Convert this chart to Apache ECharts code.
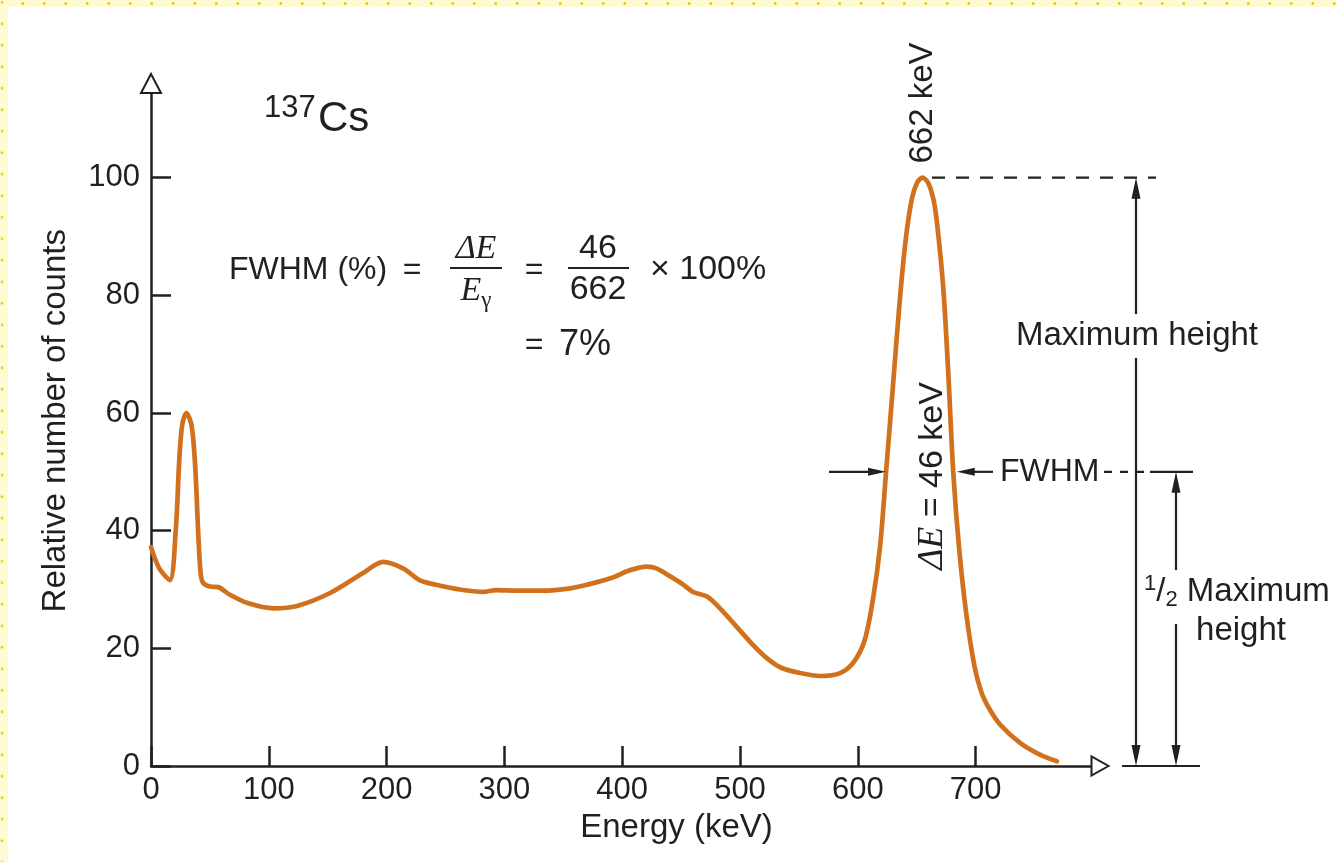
<!DOCTYPE html>
<html>
<head>
<meta charset="utf-8">
<script src="https://cdn.jsdelivr.net/npm/echarts@6/dist/echarts.min.js"></script>
<style>
html,body{margin:0;padding:0;background:#fff;}
#frame{position:relative;width:1336px;height:862px;overflow:hidden;background:#fff;}
#chart{position:absolute;left:0;top:0;width:1336px;height:862px;}
#topbar{position:absolute;left:0;top:0;width:1336px;height:7px;z-index:5;background-color:#fefbd2;
  background-image:radial-gradient(circle at 50% 50%, #f4c21a 0, #f4c21a 1.2px, transparent 1.7px);
  background-size:21.5px 7px;background-position:12px 0;}
#leftbar{position:absolute;left:0;top:0;width:8px;height:862px;z-index:5;background-color:#fefbd2;
  background-image:radial-gradient(circle at 2px 50%, #f4c21a 0, #f4c21a 1.2px, transparent 1.7px);
  background-size:8px 21.5px;background-position:0 13px;}
</style>
</head>
<body>
<div id="frame">
  <div id="chart"></div>
  <div id="topbar"></div>
  <div id="leftbar"></div>
</div>
<script>
// ---- data ----
const energy = [0, 7, 16, 21, 24, 26.5, 30, 34.5, 37.5, 40, 42, 44, 50, 57, 67, 82, 104, 124, 152, 180,
  197, 214, 228, 242, 262, 282, 293, 313, 333, 356, 370, 390, 407, 421, 429, 441, 452, 460, 472, 483,
  497, 511, 523, 535, 551, 568, 585, 597, 606, 613, 619, 624, 630, 636, 641, 646, 650.5, 655, 660, 665,
  669, 673, 677, 681, 686, 692, 699, 705, 712, 721, 738, 755, 769];
const counts = [37.2, 33.6, 31.6, 40, 52, 58, 60, 57.8, 51, 40, 33, 31.2, 30.5, 30.4, 29.1, 27.7, 26.8, 27.2, 29.4, 32.8,
  34.7, 33.6, 31.6, 30.8, 30.0, 29.6, 29.9, 29.8, 29.8, 30.2, 30.8, 31.9, 33.3, 33.9, 33.6, 32.2, 30.8, 29.6, 28.8, 26.8,
  23.7, 20.6, 18.3, 16.7, 15.8, 15.3, 15.8, 17.8, 21.5, 28.5, 37.5, 50, 65, 80, 90, 96.5, 99.2, 100, 99, 95.5,
  89, 80, 66, 50, 37, 26, 17, 12.5, 9.6, 7.0, 3.9, 1.9, 0.8];
const xTicks = [0, 100, 200, 300, 400, 500, 600, 700];
const yTicks = [0, 20, 40, 60, 80, 100];

const INK = '#231f20';
const SANS = '"Liberation Sans", Arial, Helvetica, sans-serif';
const SERIF = '"Liberation Serif", "Times New Roman", serif';

const chart = echarts.init(document.getElementById('chart'), null, {renderer: 'canvas'});

const option = {
  animation: false,
  backgroundColor: 'transparent',
  grid: {left: 151, right: 236, top: 83.5, bottom: 96, containLabel: false, outerBoundsMode: 'none'},
  xAxis: {
    type: 'value', min: 0, max: 805.6,
    name: 'Energy (keV)', nameLocation: 'middle', nameGap: 45,
    nameTextStyle: {fontSize: 33, color: INK, fontFamily: SANS, padding: [0, 0, 0, 102]},
    axisLine: {show: true, lineStyle: {color: INK, width: 2.5}, symbol: ['none', 'emptyTriangle'], symbolSize: [19, 17]},
    axisTick: {show: true, inside: true, length: 20, lineStyle: {color: INK, width: 2.5}, customValues: xTicks},
    axisLabel: {show: true, customValues: xTicks, fontSize: 31, color: INK, fontFamily: SANS, margin: 9},
    splitLine: {show: false}
  },
  yAxis: {
    type: 'value', min: 0, max: 116,
    name: 'Relative number of counts', nameLocation: 'middle', nameGap: 79, nameRotate: 90,
    nameTextStyle: {fontSize: 33, color: INK, fontFamily: SANS, padding: [0, 0, 0, 8]},
    axisLine: {show: true, lineStyle: {color: INK, width: 2.5}, symbol: ['none', 'emptyTriangle'], symbolSize: [20, 19]},
    axisTick: {show: true, inside: true, length: 20, lineStyle: {color: INK, width: 2.5}, customValues: yTicks},
    axisLabel: {show: true, customValues: yTicks, fontSize: 31, color: INK, fontFamily: SANS, margin: 11},
    splitLine: {show: false}
  },
  series: [{
    type: 'line',
    data: energy.map((e, i) => [e, counts[i]]),
    showSymbol: false,
    smooth: 0.3,
    clip: false,
    lineStyle: {color: '#d2711d', width: 4.7, cap: 'round', join: 'round'},
    z: 3
  }]
};
chart.setOption(option);

function P(e, c) { return chart.convertToPixel({gridIndex: 0}, [e, c]); }

function line(x1, y1, x2, y2, dash) {
  return {type: 'line', shape: {x1, y1, x2, y2}, silent: true,
    style: {stroke: INK, lineWidth: 2.2, lineDash: dash || null}, z: 10};
}
function head(tx, ty, dx, dy, L, w) {
  const bx = tx - L * dx, by = ty - L * dy;
  const px = -dy, py = dx;
  return {type: 'polygon', silent: true, z: 11,
    shape: {points: [[tx, ty], [bx + w * px, by + w * py], [bx - w * px, by - w * py]]},
    style: {fill: INK}};
}
function text(str, x, y, opts) {
  const o = opts || {};
  return {type: 'text', x, y, rotation: o.rotation || 0, silent: true, z: 12,
    style: Object.assign({text: str, fill: INK, fontSize: o.fontSize || 33, fontFamily: o.fontFamily || SANS,
      fontStyle: o.fontStyle || 'normal', align: o.align || 'left', verticalAlign: o.verticalAlign || 'middle'},
      o.extra || {})};
}

function buildGraphics() {
  const y100 = P(0, 100)[1];
  const y50 = P(0, 50)[1];
  const y0 = P(0, 0)[1];
  const xDashStart = P(663, 0)[0];
  const xFL = P(624, 0)[0], xFR = P(684, 0)[0];
  const xMax = 1136, xHalf = 1176;
  const els = [];
  // peak level dashed line
  els.push(line(xDashStart, y100, 1156, y100, [13, 11]));
  // maximum height bracket
  els.push(line(xMax, y100 + 14, xMax, 314));
  els.push(line(xMax, 358, xMax, y0 - 14));
  els.push(head(xMax, y100, 0, -1, 21, 4.5));
  els.push(head(xMax, y0, 0, 1, 21, 4.5));
  els.push(text('Maximum height', 1137, 336, {align: 'center'}));
  // half maximum level
  els.push(line(1104, y50, 1150, y50, [8, 8]));
  els.push(line(1150, y50, 1193, y50));
  els.push(line(xHalf, y50 + 14, xHalf, 570));
  els.push(line(xHalf, 624, xHalf, y0 - 14));
  els.push(head(xHalf, y50, 0, -1, 21, 4.5));
  els.push(head(xHalf, y0, 0, 1, 21, 4.5));
  els.push(line(1122, y0, 1200, y0));
  els.push({type: 'text', x: 1144, y: 592, silent: true, z: 12,
    style: {text: '{s|1}{n|/}{b|2}{n| Maximum}', fill: INK, fontFamily: SANS, verticalAlign: 'middle', align: 'left',
      rich: {s: {fontSize: 22, verticalAlign: 'top', fill: INK, fontFamily: SANS, lineHeight: 38},
             n: {fontSize: 33, fill: INK, fontFamily: SANS, lineHeight: 38},
             b: {fontSize: 22, verticalAlign: 'bottom', fill: INK, fontFamily: SANS, lineHeight: 38}}}});
  els.push(text('height', 1241, 631, {align: 'center'}));
  // FWHM arrows
  els.push(line(829, y50, xFL - 10, y50));
  els.push(head(xFL, y50, 1, 0, 18, 4));
  els.push(line(993, y50, xFR + 10, y50));
  els.push(head(xFR, y50, -1, 0, 18, 4));
  els.push(text('FWHM', 1000, y50, {fontSize: 32}));
  // rotated labels
  els.push(text('662 keV', 923, 103, {align: 'center', rotation: Math.PI / 2}));
  els.push({type: 'text', x: 933, y: 476, rotation: Math.PI / 2, silent: true, z: 12,
    style: {text: '{i|ΔE}{n| = 46 keV}', fill: INK, align: 'center', verticalAlign: 'middle',
      rich: {i: {fontSize: 36, fontFamily: SERIF, fontStyle: 'italic', fill: INK},
             n: {fontSize: 34, fontFamily: SANS, fill: INK}}}});
  // 137Cs
  els.push(text('137', 264, 108, {fontSize: 31}));
  els.push(text('Cs', 318, 119, {fontSize: 42}));
  // formula
  els.push(text('FWHM (%)', 229, 270, {fontSize: 32}));
  els.push(text('=', 412, 270, {fontSize: 32, align: 'center'}));
  els.push(text('ΔE', 476, 249, {fontSize: 34, fontFamily: SERIF, fontStyle: 'italic', align: 'center'}));
  els.push(line(450, 268, 502, 268));
  els.push({type: 'text', x: 476, y: 291, silent: true, z: 12,
    style: {text: '{i|E}{g|γ}', fill: INK, align: 'center', verticalAlign: 'middle',
      rich: {i: {fontSize: 34, fontFamily: SERIF, fontStyle: 'italic', fill: INK, lineHeight: 42},
             g: {fontSize: 23, fontFamily: SERIF, fill: INK, verticalAlign: 'bottom', lineHeight: 42}}}});
  els.push(text('=', 534, 270, {fontSize: 32, align: 'center'}));
  els.push(text('46', 598, 249, {fontSize: 34, align: 'center'}));
  els.push(line(568, 268, 629, 268));
  els.push(text('662', 598, 290, {fontSize: 34, align: 'center'}));
  els.push(text('× 100%', 650, 270, {fontSize: 34}));
  els.push(text('=', 534, 345, {fontSize: 32, align: 'center'}));
  els.push(text('7%', 559, 345, {fontSize: 36}));
  return els;
}
chart.setOption({graphic: buildGraphics()});
</script>
</body>
</html>
